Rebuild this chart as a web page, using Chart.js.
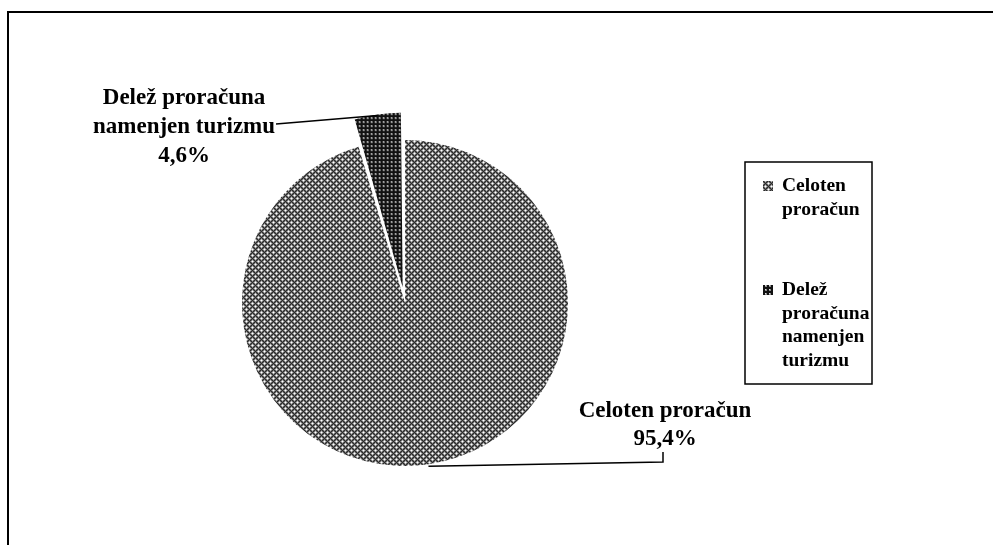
<!DOCTYPE html>
<html>
<head>
<meta charset="utf-8">
<script src="https://cdn.jsdelivr.net/npm/chart.js@4"></script>
<style>
  html, body { margin: 0; padding: 0; background: #fff; }
  canvas { display: block; }
</style>
</head>
<body>
<canvas id="pie" width="993" height="545"></canvas>
<script>
var labels = ['Celoten proračun', 'Delež proračuna namenjen turizmu'];
var shares = [95.4, 4.6];
var shareText = ['95,4%', '4,6%'];
var explode = [0, 64];

var serif = '"Liberation Serif", "Times New Roman", serif';

// small tiles imitating the old office hatch fills
var makePattern = function(kind) {
	var c = document.createElement('canvas');
	var ctx = c.getContext('2d');
	if (kind === 'light') {
		c.width = 6; c.height = 6;
		ctx.fillStyle = '#c4c4c4';
		ctx.fillRect(0, 0, 6, 6);
		for (var x = 0; x < 6; x++) {
			for (var y = 0; y < 6; y++) {
				var d1 = (x + y) % 6, d2 = (x - y + 6) % 6;
				if (d1 === 0 || d2 === 0) ctx.fillStyle = '#2a2a2a';
				else if (d1 === 1 || d1 === 5 || d2 === 1 || d2 === 5) ctx.fillStyle = '#6a6a6a';
				else if (d1 === 3 && d2 === 3) ctx.fillStyle = '#fff';
				else continue;
				ctx.fillRect(x, y, 1, 1);
			}
		}
	} else {
		c.width = 4; c.height = 4;
		ctx.fillStyle = '#111';
		ctx.fillRect(0, 0, 4, 4);
		ctx.fillStyle = '#8a8a8a';
		ctx.fillRect(1, 1, 2, 2);
		ctx.fillStyle = '#e0e0e0';
		ctx.fillRect(1, 1, 1, 1);
	}
	return document.getElementById('pie').getContext('2d').createPattern(c, 'repeat');
};

var fills = [makePattern('light'), makePattern('dark')];

var wrapText = function(ctx, text, maxW) {
	var words = text.split(' '), lines = [], cur = '';
	words.forEach(function(w) {
		var t = cur ? cur + ' ' + w : w;
		if (cur && ctx.measureText(t).width > maxW) { lines.push(cur); cur = w; }
		else cur = t;
	});
	if (cur) lines.push(cur);
	return lines;
};

// outer point of a slice, as chart.js draws it with its offset
var arcPoint = function(el, off) {
	var p = el.getProps(['x', 'y', 'startAngle', 'endAngle', 'outerRadius', 'circumference'], true);
	var mid = (p.startAngle + p.endAngle) / 2;
	var t = off / 4;
	var fix = 1 - Math.sin(Math.min(Math.PI, p.circumference || 0));
	var r = p.outerRadius + t + t * fix;
	return { x: p.x + Math.cos(mid) * r, y: p.y + Math.sin(mid) * r };
};

var labelPos = [
	{ cx: 665, top: 411, lineH: 28, hook: 'under' },
	{ cx: 184, top: 98, lineH: 29, hook: 'side' }
];

var decor = {
	id: 'decor',
	afterDraw: function(chart) {
		var ctx = chart.ctx;
		var meta = chart.getDatasetMeta(0);
		ctx.save();

		// frame
		ctx.strokeStyle = '#000';
		ctx.lineWidth = 2;
		ctx.beginPath();
		ctx.moveTo(8, chart.height);
		ctx.lineTo(8, 12);
		ctx.lineTo(chart.width, 12);
		ctx.stroke();

		// data labels with leader lines
		ctx.font = 'bold 23px ' + serif;
		ctx.fillStyle = '#000';
		ctx.textAlign = 'center';
		ctx.textBaseline = 'middle';
		for (var i = 0; i < labels.length; i++) {
			var lp = labelPos[i];
			var lines = wrapText(ctx, labels[i], 190).concat([shareText[i]]);
			lines.forEach(function(l, k) { ctx.fillText(l, lp.cx, lp.top + k * lp.lineH); });
			var a = arcPoint(meta.data[i], explode[i]);
			ctx.lineWidth = 1.5;
			ctx.beginPath();
			if (lp.hook === 'side') {
				var w = ctx.measureText(lines[1]).width;
				ctx.moveTo(lp.cx + w / 2 + 1, lp.top + lp.lineH - 3);
				ctx.lineTo(a.x, a.y + 1);
			} else {
				var ly = lp.top + (lines.length - 1) * lp.lineH + 13;
				ctx.moveTo(a.x, a.y + 2);
				ctx.lineTo(lp.cx - 2, ly + 10);
				ctx.lineTo(lp.cx - 2, ly);
			}
			ctx.stroke();
		}

		// legend box
		var bx = 745, by = 162, bw = 127, bh = 222;
		ctx.lineWidth = 1.5;
		ctx.strokeRect(bx, by, bw, bh);
		ctx.font = 'bold 19.5px ' + serif;
		ctx.textAlign = 'left';
		var itemTop = [186, 290];
		for (var j = 0; j < labels.length; j++) {
			ctx.fillStyle = fills[j];
			ctx.fillRect(bx + 18, itemTop[j] - 5, 10, 10);
			ctx.fillStyle = '#000';
			labels[j].split(' ').forEach(function(word, k) {
				ctx.fillText(word, bx + 37, itemTop[j] + k * 23.5);
			});
		}
		ctx.restore();
	}
};

new Chart(document.getElementById('pie'), {
	type: 'pie',
	data: {
		labels: labels,
		datasets: [{
			data: shares,
			backgroundColor: fills,
			borderWidth: 0,
			offset: explode,
			radius: 163
		}]
	},
	options: {
		responsive: false,
		animation: false,
		layout: { padding: { left: 240, right: 423, top: 140, bottom: 79 } },
		plugins: {
			legend: { display: false },
			tooltip: { enabled: false }
		}
	},
	plugins: [decor]
});
</script>
</body>
</html>
